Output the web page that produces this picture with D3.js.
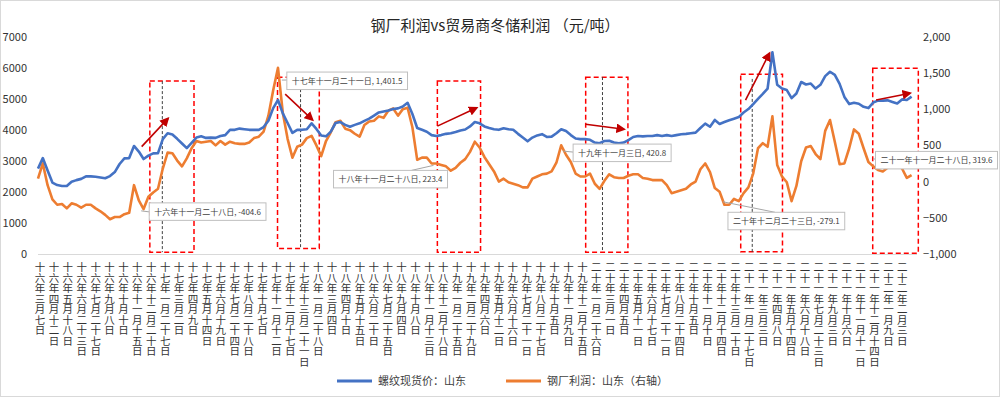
<!DOCTYPE html>
<html>
<head>
<meta charset="utf-8">
<script src="https://cdn.jsdelivr.net/npm/d3@7"></script>
<style>
  body { margin: 0; background: #fff; }
  text { font-family: "Noto Sans CJK SC", "Microsoft YaHei", sans-serif; }
</style>
</head>
<body>
<div id="main"></div>
<script>
var dateLabels = [
  '十六年三月七日', '十六年四月十二日', '十六年五月十八日', '十六年六月二十三日', '十六年七月二十七日',
  '十六年九月八日', '十六年十月十日', '十六年十一月十五日', '十六年十二月二十日',
  '十七年一月二十七日', '十七年三月二日', '十七年四月九日', '十七年五月十四日', '十七年六月十九日',
  '十七年七月二十四日', '十七年八月二十八日', '十七年十月七日', '十七年十一月十二日', '十七年十二月十七日',
  '十七年十三月二十一日',
  '十八年一月二十八日', '十八年三月四日', '十八年四月十日', '十八年五月十五日', '十八年六月二十日',
  '十八年七月二十五日', '十八年九月四日', '十八年十月八日', '十八年十一月十三日', '十八年十二月十八日',
  '十九年一月二十五日', '十九年二月二十九日', '十九年四月六日', '十九年五月十二日', '十九年六月十六日',
  '十九年七月二十一日', '十九年八月二十七日', '十九年十月五日', '十九年十一月九日', '十九年十二月十五日',
  '二十年一月二十六日', '二十年三月一日', '二十年四月五日', '二十年五月十一日', '二十年六月十七日',
  '二十年七月二十一日', '二十年八月二十四日', '二十年十月五日', '二十年十一月十日', '二十年十二月十四日',
  '二十年十三月二十日',
  '二十一年一月二十七日', '二十一年三月三日', '二十一年四月八日', '二十一年五月十四日', '二十一年六月十八日',
  '二十一年七月二十三日', '二十一年九月三日', '二十一年十月六日', '二十一年十一月十一日', '二十一年十二月十四日',
  '二十二年一月九日', '二十二年二月三日'
];

// 螺纹现货价：山东 (left axis)
var rebarPrice = [
  2750, 3090, 2690, 2300, 2220, 2190, 2190, 2330, 2380, 2420,
  2500, 2500, 2490, 2465, 2440, 2510, 2640, 2900, 3080, 3090,
  3480, 3300, 3060, 3170, 3240, 3250, 3700, 3890, 3850, 3710,
  3560, 3410, 3580, 3750, 3790, 3740, 3750, 3740, 3800, 3830,
  4000, 4000, 4040, 4020, 4000, 4000, 4000, 4090, 4290, 4700,
  4960, 4530, 4220, 3900, 4000, 4000, 4020, 4210, 4030, 3820,
  3790, 3940, 4220, 4250, 4160, 4100, 4160, 4210, 4290, 4360,
  4460, 4560, 4590, 4620, 4670, 4690, 4750, 4870, 4510, 4060,
  4000, 3940, 3830, 3800, 3830, 3870, 3890, 3930, 3980, 4010,
  4110, 4250, 4210, 4110, 4060, 4020, 4000, 4050, 4020, 4000,
  3870, 3750, 3630, 3750, 3820, 3860, 3770, 3780, 3890, 4020,
  3960, 3830, 3720, 3700, 3700, 3680, 3590, 3570, 3640, 3650,
  3590, 3570, 3590, 3670, 3770, 3800, 3790, 3800, 3800, 3830,
  3800, 3830, 3800, 3830, 3860, 3870, 3890, 3910, 4060, 4200,
  4100, 4320, 4190, 4250, 4310, 4360, 4410, 4560, 4670, 4830,
  5000, 5160, 5330, 6500, 5450, 5330, 5280, 5020, 5170, 5540,
  5460, 5490, 5330, 5450, 5730, 5870, 5770, 5480, 5060, 4830,
  4870, 4840, 4740, 4700, 4880, 4940, 4940, 4950, 4900, 4850,
  4980, 4960, 5070
];

// 钢厂利润：山东 (right axis)
var millProfit = [
  40, 250, -50, -245, -320, -310, -370, -300, -320, -360,
  -320, -320, -370, -410, -460, -520, -490, -490, -450, -430,
  -50, -260, -380, -210, -150, -100, 180, 400, 390, 290,
  210, 320, 460, 560, 540, 550, 560, 500, 560, 510,
  550, 530, 520, 520, 540, 600, 620, 690, 910, 1260,
  1570, 950, 590, 330, 480, 510, 600, 630, 500, 350,
  560, 680, 820, 840, 730, 710, 660, 620, 780, 830,
  840, 900, 880, 980, 1010, 910, 1000, 1020, 750, 300,
  330, 330, 250, 250, 230, 210, 150, 190, 260, 310,
  410, 550, 470, 340, 240, 140, 0, 40, -10, -30,
  -50, -80, -80, 40, 70, 100, 110, 140, 260, 500,
  370, 270, 110, 70, 70, 110, -30, -100, 10, 100,
  60, 50, 50, 80, 100, 100, 50, 40, 20, 20,
  20, -50, -160, -140, -120, -100, -40, 0, 170, 250,
  130, -90, -140, -320, -320, -240, -270, -160, -80, 110,
  460, 530, 480, 900, 230, 70, -10, -270, -60, 280,
  470, 490, 380, 310, 700, 850, 550, 240, 250, 460,
  720, 660, 460, 270, 210, 160, 140, 190, 230, 245,
  180, 50, 90
];

var leftTicks = [0, 1000, 2000, 3000, 4000, 5000, 6000, 7000];
var rightTicks = [-1000, -500, 0, 500, 1000, 1500, 2000];

var seriesNames = ['螺纹现货价：山东', '钢厂利润：山东（右轴）'];
var seriesColors = ['#4472C4', '#ED7D31'];

// red dashed windows around each winter-stock period (index range, left axis values)
var stockWindows = [
  {from: 23.3, to: 32.5, top: 5570, bottom: 60},
  {from: 49.9, to: 58.6, top: 5690, bottom: 180},
  {from: 83.2, to: 92.2, top: 5570, bottom: 55},
  {from: 114.1, to: 122.9, top: 5690, bottom: 55},
  {from: 146.4, to: 155.1, top: 5790, bottom: 75},
  {from: 173.9, to: 183.4, top: 5980, bottom: 25}
];

var markerLines = [
  {index: 25.9, top: 5570, bottom: 60},
  {index: 54.7, top: 5310, bottom: 190},
  {index: 117.6, top: 5700, bottom: 60},
  {index: 148.8, top: 5640, bottom: 60}
];

var trendArrows = [
  {i0: 21.6, v0: 3460, i1: 27.1, v1: 4370},
  {i0: 51.5, v0: 5150, i1: 57.2, v1: 4320},
  {i0: 83.2, v0: 4120, i1: 91.4, v1: 4710},
  {i0: 114.1, v0: 4180, i1: 122.1, v1: 4020},
  {i0: 147.4, v0: 4960, i1: 152.4, v1: 6470},
  {i0: 174.6, v0: 4960, i1: 181.7, v1: 5180}
];

// data callouts on the profit line (right axis values)
var callouts = [
  {index: 21.5, value: -404.6, text: '十六年十一月二十八日, -404.6', dx: 8, dy: -8, lx: 0, ly: 9},
  {index: 50.8, value: 1401.5, text: '十七年十一月二十一日, 1,401.5', dx: 5, dy: -8, lx: 0, ly: 8},
  {index: 82.4, value: 223.4, text: '十八年十一月二十八日, 223.4', dx: -100, dy: 5, lx: 78, ly: 0},
  {index: 109.4, value: 420.8, text: '十九年十一月三日, 420.8', dx: 10, dy: -7, lx: 0, ly: 8},
  {index: 142.7, value: -279.1, text: '二十年十二月二十三日, -279.1', dx: 5, dy: 10.5, lx: 47, ly: 0},
  {index: 173.96, value: 319.6, text: '二十一年十一月二十八日, 319.6', dx: 2.5, dy: -7, lx: 0, ly: 8}
];

var width = 1001;
var height = 398;

var svg = d3.select('#main').append('svg')
  .attr('width', width)
  .attr('height', height);

svg.append('rect')
  .attr('x', 0.5).attr('y', 0.5)
  .attr('width', width - 2).attr('height', height - 2)
  .attr('fill', '#fff')
  .attr('stroke', '#d9d9d9');

var x = d3.scaleLinear().domain([0, rebarPrice.length - 1]).range([38, 911.6]);
var xLabel = d3.scalePoint().domain(dateLabels).range([40, 902.3]);
var yLeft = d3.scaleLinear().domain([0, 7000]).range([254, 36.7]);
var yRight = d3.scaleLinear().domain([-1000, 2000]).range([254, 36.7]);

// title
svg.append('text')
  .attr('x', 495)
  .attr('y', 31)
  .attr('text-anchor', 'middle')
  .attr('font-size', 15)
  .attr('fill', '#262626')
  .text('钢厂利润vs贸易商冬储利润 （元/吨）');

// axes
svg.append('line')
  .attr('x1', 38).attr('x2', 917)
  .attr('y1', 254.5).attr('y2', 254.5)
  .attr('stroke', '#d9d9d9');

svg.selectAll('.left_tick')
  .data(leftTicks)
  .enter()
  .append('text')
  .attr('class', 'left_tick')
  .attr('x', 27)
  .attr('y', function (d) {
    return yLeft(d) + 4;
  })
  .attr('text-anchor', 'end')
  .attr('font-size', 11)
  .attr('fill', '#333')
  .text(function (d) {
    return d;
  });

svg.selectAll('.right_tick')
  .data(rightTicks)
  .enter()
  .append('text')
  .attr('class', 'right_tick')
  .attr('x', 923)
  .attr('y', function (d) {
    return yRight(d) + 4;
  })
  .attr('font-size', 11)
  .attr('fill', '#333')
  .text(function (d) {
    return d3.format(',')(d);
  });

// date labels, one character under the other
svg.selectAll('.x_label')
  .data(dateLabels)
  .enter()
  .append('text')
  .attr('class', 'x_label')
  .attr('x', function (d) { return xLabel(d); })
  .attr('y', 262)
  .attr('font-size', 10.5)
  .attr('fill', '#333')
  .style('writing-mode', 'vertical-rl')
  .style('text-orientation', 'upright')
  .text(function (d) { return d; });

// red dashed windows and black marker lines
svg.selectAll('.stock_window')
  .data(stockWindows)
  .enter()
  .append('rect')
  .attr('class', 'stock_window')
  .attr('x', function (d) { return x(d.from); })
  .attr('y', function (d) { return yLeft(d.top); })
  .attr('width', function (d) { return x(d.to) - x(d.from); })
  .attr('height', function (d) { return yLeft(d.bottom) - yLeft(d.top); })
  .attr('fill', 'none')
  .attr('stroke', '#FF0000')
  .attr('stroke-width', 1.5)
  .attr('stroke-dasharray', '5,3');

svg.selectAll('.marker_line')
  .data(markerLines)
  .enter()
  .append('line')
  .attr('class', 'marker_line')
  .attr('x1', function (d) { return x(d.index); })
  .attr('x2', function (d) { return x(d.index); })
  .attr('y1', function (d) { return yLeft(d.top); })
  .attr('y2', function (d) { return yLeft(d.bottom); })
  .attr('stroke', '#404040')
  .attr('stroke-width', 1)
  .attr('stroke-dasharray', '3,2');

// series lines
var priceLine = d3.line()
  .x(function (d, i) { return x(i); })
  .y(function (d) { return yLeft(d); });

var profitLine = d3.line()
  .x(function (d, i) { return x(i); })
  .y(function (d) { return yRight(d); });

svg.append('path')
  .datum(millProfit)
  .attr('d', profitLine)
  .attr('fill', 'none')
  .attr('stroke', seriesColors[1])
  .attr('stroke-width', 2.6)
  .attr('stroke-linejoin', 'round');

svg.append('path')
  .datum(rebarPrice)
  .attr('d', priceLine)
  .attr('fill', 'none')
  .attr('stroke', seriesColors[0])
  .attr('stroke-width', 2.6)
  .attr('stroke-linejoin', 'round');

// arrows
svg.append('defs').append('marker')
  .attr('id', 'arrow_head')
  .attr('viewBox', '0 0 10 10')
  .attr('refX', 8)
  .attr('refY', 5)
  .attr('markerWidth', 6)
  .attr('markerHeight', 6)
  .attr('orient', 'auto')
  .append('path')
  .attr('d', 'M0,0 L10,5 L0,10 z')
  .attr('fill', '#C00000');

svg.selectAll('.trend_arrow')
  .data(trendArrows)
  .enter()
  .append('line')
  .attr('class', 'trend_arrow')
  .attr('x1', function (d) { return x(d.i0); })
  .attr('y1', function (d) { return yLeft(d.v0); })
  .attr('x2', function (d) { return x(d.i1); })
  .attr('y2', function (d) { return yLeft(d.v1); })
  .attr('stroke', '#C00000')
  .attr('stroke-width', 1.6)
  .attr('marker-end', 'url(#arrow_head)');

// callouts
var co = svg.selectAll('.callout')
  .data(callouts)
  .enter()
  .append('g')
  .attr('class', 'callout')
  .attr('transform', function (d) {
    return 'translate(' + (x(d.index) + d.dx) + ',' + (yRight(d.value) + d.dy) + ')';
  });

co.append('line')
  .attr('x1', function (d) { return -d.dx; })
  .attr('y1', function (d) { return -d.dy; })
  .attr('x2', function (d) { return d.lx; })
  .attr('y2', function (d) { return d.ly; })
  .attr('stroke', '#a6a6a6')
  .attr('stroke-width', 1);

var boxes = co.append('rect')
  .attr('height', 17.5)
  .attr('fill', '#fff')
  .attr('stroke', '#bfbfbf');

var coText = co.append('text')
  .attr('x', 5)
  .attr('y', 12)
  .attr('font-size', 8)
  .attr('fill', '#404040')
  .text(function (d) { return d.text; });

coText.each(function (d, i) {
  var w = this.getComputedTextLength() + 10;
  d3.select(boxes.nodes()[i]).attr('width', w);
});

// legend
var legend = svg.selectAll('.legend')
  .data(seriesNames)
  .enter()
  .append('g')
  .attr('class', 'legend')
  .attr('transform', function (d, i) {
    return 'translate(' + (337 + i * 169) + ',381)';
  });

legend.append('line')
  .attr('x1', 0).attr('x2', 35)
  .attr('y1', 0).attr('y2', 0)
  .attr('stroke', function (d, i) { return seriesColors[i]; })
  .attr('stroke-width', 3);

legend.append('text')
  .attr('x', 41)
  .attr('y', 4)
  .attr('font-size', 11)
  .attr('fill', '#404040')
  .text(function (d) { return d; });
</script>
</body>
</html>
